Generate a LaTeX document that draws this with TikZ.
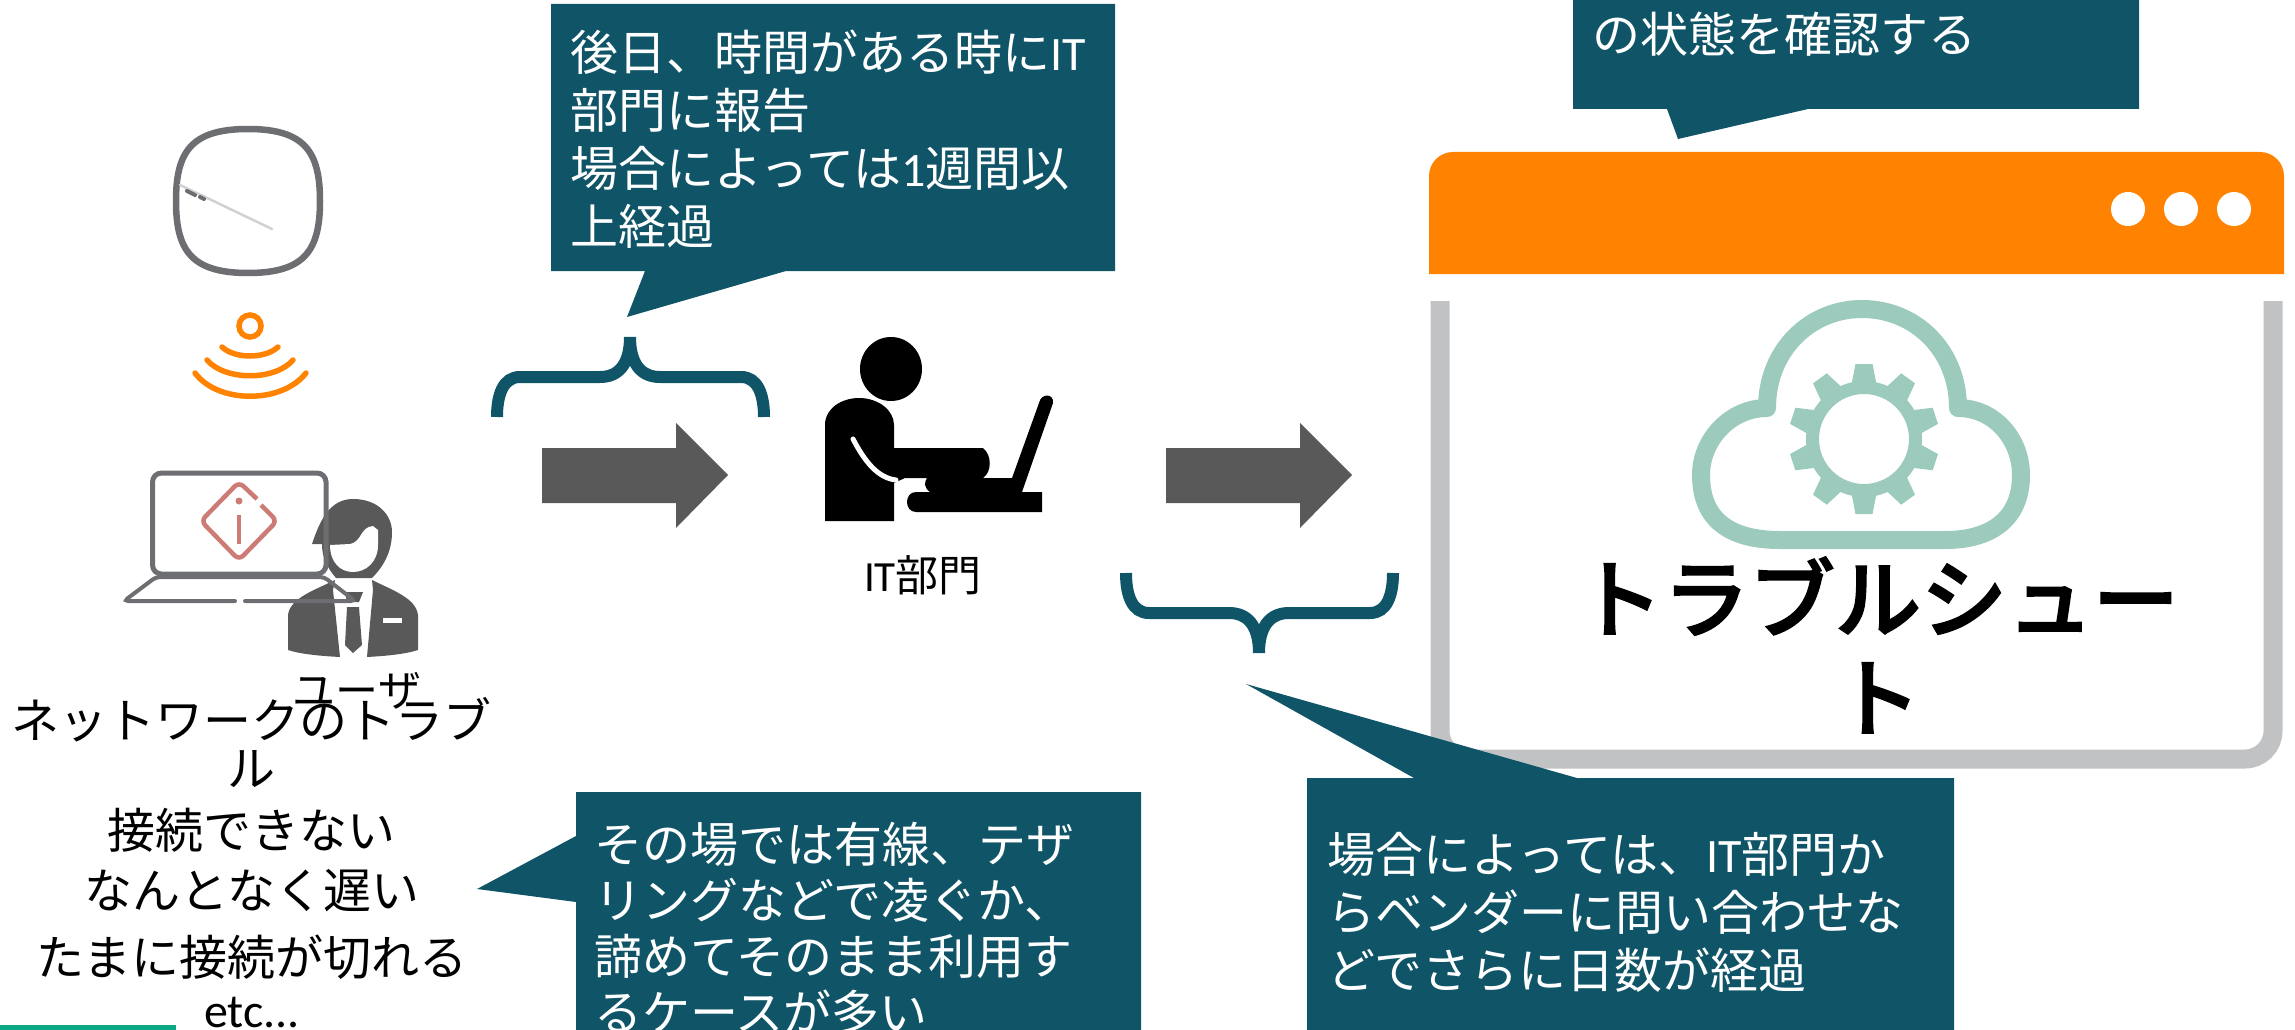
\documentclass[tikz,border=0pt]{standalone}
\usepackage{fontspec}
\setmainfont{Noto Sans CJK JP}
\newfontfamily\lat{Carlito}
\newfontfamily\medium[FakeBold=2]{Noto Sans CJK JP Medium}
\definecolor{noteteal}{HTML}{105468}
\definecolor{arrowgray}{HTML}{595959}
\definecolor{icongray}{HTML}{6D6E71}
\definecolor{framegray}{HTML}{C1C2C4}
\definecolor{wifiorange}{HTML}{FF8300}
\definecolor{cloudgreen}{HTML}{9CCABD}
\definecolor{infored}{HTML}{CD7B75}
\definecolor{bargreen}{HTML}{0AA883}
\begin{document}
\begin{tikzpicture}[x=1pt, y=-1pt,
    note/.style={fill=noteteal},
    notetext/.style={text=white, anchor=north west, inner sep=0pt, align=left, font=\fontsize{48}{58}\selectfont},
    bluebrace/.style={draw=noteteal, line width=12pt},
    label/.style={inner sep=0pt, align=center, font=\fontsize{43}{48}\selectfont}]
    \useasboundingbox (0,0) rectangle (2295,1030);
    \fill [bargreen] (0,1025) rectangle (176,1030);
    % access point
    \draw [icongray, line width=6.5pt] (248,129) .. controls (305,129) and (320,152) .. (320,201) .. controls (320,250) and (305,273) .. (248,273) .. controls (191,273) and (176,250) .. (176,201) .. controls (176,152) and (191,129) .. (248,129) -- cycle;
    \draw [black!18, line width=2.5pt, line cap=round] (180,185) -- (272,229);
    \draw [icongray, line width=4pt, line cap=round] (187,191) -- (195,195) (200,197) -- (204,199);
    \draw [wifiorange, line width=5.5pt] (250,326) circle [radius=11];
    \draw [wifiorange, line width=5.5pt, line cap=round] (222,347) .. controls (235,359) and (265,359) .. (278,347);
    \draw [wifiorange, line width=5.5pt, line cap=round] (207,360) .. controls (225,381) and (275,381) .. (293,360);
    \draw [wifiorange, line width=5.5pt, line cap=round] (195,373) .. controls (218,404) and (282,404) .. (306,373);
    % user
    \fill [arrowgray] (312,544) .. controls (320,520) and (330,499) .. (353,499) .. controls (378,499) and (392,515) .. (392,532) .. controls (392,550) and (385,565) .. (372,578) -- (336,578) .. controls (325,565) and (322,555) .. (322,544) -- cycle;
    \fill [white] (330,545) -- (350,544) .. controls (362,542) and (360,527) .. (373,526) -- (378,530) -- (378,545) .. controls (378,562) and (366,572) .. (353,572) .. controls (340,572) and (330,562) .. (330,545) -- cycle;
    \fill [arrowgray] (335,580) .. controls (315,590) and (290,598) .. (288,615) -- (288,650) .. controls (300,654) and (320,656) .. (340,657) -- (333,590) -- cycle;
    \fill [arrowgray] (372,580) .. controls (392,590) and (416,598) .. (418,615) -- (418,650) .. controls (406,654) and (386,656) .. (367,657) -- (373,590) -- cycle;
    \fill [arrowgray] (345,592) -- (363,592) -- (359,602) -- (347,602) -- cycle;
    \fill [arrowgray] (347,607) -- (359,607) -- (362,645) -- (353,653) -- (345,645) -- cycle;
    \fill [white] (383,618) rectangle (402,623);
    \node [label] (userlabel) at (357,691) {ユーザ};
    % laptop
    \draw [icongray, line width=5pt, rounded corners=9pt] (152.5,473) rectangle (326,574);
    \draw [icongray, line width=4pt, rounded corners=4pt, line cap=round] (235,601) -- (124,601) -- (156,577) -- (324,577) -- (355,601) -- (245,601);
    \draw [infored, line width=4.5pt, rounded corners=6pt] (261,505) -- (277,521) -- (239,560) -- (201,521) -- (239,482) -- (257,499);
    \fill [infored] (239,501) circle [radius=3.5];
    \draw [infored, line width=4.5pt] (239,515) -- (239,544);
    \node [font=\fontsize{48}{60}\selectfont, inner sep=0pt, align=center] (trouble) at (252,863) {ネットワークのトラブ\\[-12pt]ル\\[2pt]接続できない\\なんとなく遅い\\[7pt]たまに接続が切れる\\[-8pt]{\lat etc...}};
    % arrows
    \foreach \x in {542,1166} {
        \fill [arrowgray] (\x,448) -- ++(134,0) -- ++(0,-25) -- ++(52,52) -- ++(-52,53) -- ++(0,-25) -- ++(-134,0) -- cycle;
    }
    % it department
    \fill [black] (891,369) ellipse [x radius=31, y radius=32];
    \fill [black] (825,521) -- (825,425) .. controls (825,408) and (842,398) .. (859,398) .. controls (878,398) and (894,410) .. (894,425) -- (894,448) -- (983,448) .. controls (992,455) and (992,472) .. (983,478) -- (1012,478) -- (1039,403) .. controls (1041,393) and (1054,393) .. (1053,403) -- (1022,492) -- (1042,492) -- (1042,512) -- (916,512) .. controls (904,512) and (904,492) .. (916,492) -- (930,492) .. controls (924,488) and (924,482) .. (927,478) -- (905,478) -- (894,483) -- (894,521) -- cycle;
    \draw [white, line width=5pt, line cap=round] (853,439) .. controls (865,462) and (878,478) .. (896,480);
    \node [label] (itlabel) at (923,575) {{\lat IT}部門};
    % window
    \fill [wifiorange] (1429,274) {[rounded corners=24pt] -- (1429,152) -- (2284,152)} -- (2284,274) -- cycle;
    \foreach \x in {2128,2181,2234} {
        \fill [white] (\x,209) circle [radius=17];
    }
    \draw [framegray, line width=19pt, rounded corners=28pt] (1440,301) -- (1440,759) -- (2273,759) -- (2273,301);
    \draw [cloudgreen, line width=18pt, line join=round] (1767,408) .. controls (1767,350) and (1810,309) .. (1862,309) .. controls (1915,309) and (1958,350) .. (1958,408) .. controls (1995,408) and (2021,440) .. (2021,475) .. controls (2021,520) and (1990,540) .. (1945,540) -- (1780,540) .. controls (1730,540) and (1701,520) .. (1701,475) .. controls (1701,440) and (1730,408) .. (1767,408) -- cycle;
    \draw [cloudgreen, line width=13pt] (1864,439) circle [radius=51.5];
    \foreach \a in {0,36,...,324} {
        \fill [cloudgreen, rotate around={\a:(1864,439)}] (1855.5,364) -- (1872.5,364) -- (1878,392) -- (1850,392) -- cycle;
    }
    \node [inner sep=0pt, align=center, font=\medium\fontsize{86}{99}\selectfont] (shoot) at (1878,645) {トラブルシュー\\ト};
    % braces
    \draw [bluebrace] (497,417) .. controls (497,395) and (503,377) .. (520,377) -- (600,377) .. controls (618,377) and (630,365) .. (630,337);
    \draw [bluebrace] (764,417) .. controls (764,395) and (758,377) .. (741,377) -- (660,377) .. controls (642,377) and (630,365) .. (630,337);
    \draw [bluebrace] (1126,573) .. controls (1126,595) and (1132,613) .. (1149,613) -- (1229,613) .. controls (1247,613) and (1259,625) .. (1259,653);
    \draw [bluebrace] (1393,573) .. controls (1393,595) and (1387,613) .. (1370,613) -- (1289,613) .. controls (1271,613) and (1259,625) .. (1259,653);
    % notes
    \fill [note] (551,4) -- (1115,4) -- (1115,271) -- (786,271) -- (627,317) -- (645,271) -- (551,271) -- cycle;
    \node [notetext] (noteIT) at (570,30) {後日、時間がある時に{\lat IT}\\部門に報告\\場合によっては{\lat 1}週間以\\上経過};
    \fill [note] (1573,0) -- (2139,0) -- (2139,109) -- (1808,109) -- (1678,139) -- (1667,109) -- (1573,109) -- cycle;
    \node [notetext] (noteState) at (1592,12) {の状態を確認する};
    \fill [note] (576,792) -- (1141,792) -- (1141,1030) -- (576,1030) -- (576,902) -- (477,889) -- (576,836) -- cycle;
    \node [notetext, font=\fontsize{48}{56}\selectfont] (noteLine) at (594,822) {その場では有線、テザ\\リングなどで凌ぐか、\\諦めてそのまま利用す\\るケースが多い};
    \fill [note] (1307,778) -- (1414,778) -- (1246,684) -- (1577,778) -- (1954,778) -- (1954,1030) -- (1307,1030) -- cycle;
    \node [notetext] (noteVendor) at (1327,832) {場合によっては、{\lat IT}部門か\\らベンダーに問い合わせな\\どでさらに日数が経過};
\end{tikzpicture}
\end{document}
